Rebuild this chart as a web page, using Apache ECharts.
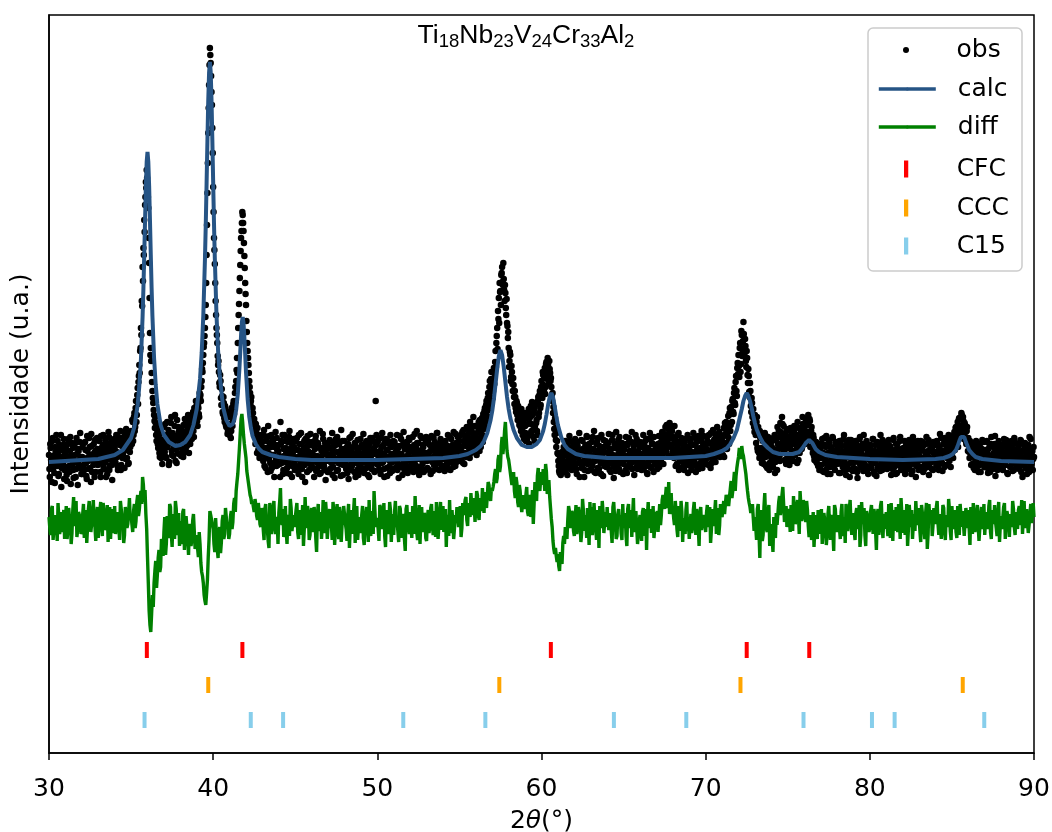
<!DOCTYPE html>
<html><head><meta charset="utf-8">
<script src="https://cdn.jsdelivr.net/npm/echarts@6/dist/echarts.min.js"></script>
<style>html,body{margin:0;padding:0;background:#fff}#c{width:1052px;height:832px}</style>
</head><body><div id="c"></div>
<script>
// ---- data (intensity in arbitrary units) ----
const xTicks = [30, 40, 50, 60, 70, 80, 90];
// observed: one row per degree (30..89), 20 points per row at d + 0.05*j
const obsRowStart = 30, obsStep = 0.05;
const obsRows = [
[298,276,305,289,312,284,295,270,301,318,287,293,279,308,296,266,303,290,314,283],
[300,286,272,309,294,281,316,297,288,305,275,292,310,284,299,268,302,293,320,287],
[279,306,295,283,311,290,274,302,296,315,285,271,307,293,288,300,313,281,297,304],
[289,312,300,276,305,295,318,284,303,291,309,279,298,316,287,306,293,273,310,301],
[305,290,318,296,283,311,300,322,288,307,299,316,285,309,324,295,312,290,318,306],
[322,309,331,318,340,326,352,338,365,371,388,402,425,452,486,505,533,548,571,583],
[568,545,490,420,405,380,362,350,338,325,330,312,322,305,318,296,310,301,289,307],
[326,301,317,295,331,309,288,320,312,336,298,318,305,327,292,314,333,300,321,309],
[319,297,322,304,328,301,316,330,307,325,312,333,309,329,314,338,322,345,329,352],
[338,327,345,336,355,352,372,381,398,410,425,448,498,560,620,668,705,690,661,625],
[566,515,489,452,425,410,388,381,366,372,348,357,339,350,331,344,326,341,322,339],
[318,336,322,341,333,352,345,366,372,395,410,438,462,488,515,530,538,522,497,470],
[448,421,402,388,372,360,352,338,345,326,334,318,329,312,325,303,318,297,314,306],
[311,292,323,300,285,316,305,327,294,309,282,318,298,313,290,306,321,287,303,295],
[308,289,331,312,296,279,304,318,291,300,285,311,297,322,288,305,276,299,314,292],
[303,287,315,296,279,309,292,320,284,301,295,312,271,306,290,317,298,283,308,294],
[289,311,298,276,304,317,291,285,309,296,322,280,302,293,314,287,306,273,299,310],
[297,281,313,305,290,320,286,301,275,308,294,316,283,300,311,289,323,296,278,304],
[312,291,284,306,298,274,315,293,302,287,319,296,281,309,300,290,313,278,305,295],
[286,308,297,319,280,303,292,312,289,301,276,310,296,284,315,299,305,282,352,318],
[301,288,314,295,279,306,320,291,284,310,297,303,277,312,293,287,318,299,282,307],
[296,311,285,302,318,290,275,307,299,314,288,296,321,283,305,292,309,280,300,313],
[287,304,295,316,281,308,293,299,322,286,310,278,302,294,315,289,306,297,283,311],
[300,285,313,296,308,279,317,291,303,288,311,298,284,320,293,306,290,314,301,287],
[309,294,282,312,300,289,318,297,305,283,314,296,290,321,302,287,310,298,316,293],
[305,292,318,301,296,323,289,310,307,326,298,315,304,331,300,322,312,336,309,327],
[315,298,326,309,321,333,306,328,318,339,324,345,331,352,337,360,348,372,356,381],
[368,362,385,379,402,410,425,442,455,470,462,478,486,468,474,452,460,438,430,415],
[405,392,398,376,381,362,368,349,356,341,350,333,345,328,339,322,336,318,331,314],
[327,312,335,318,341,309,330,347,322,338,316,344,326,350,333,318,356,340,362,348],
[372,355,378,362,385,366,391,374,388,369,384,372,366,352,340,331,318,325,306,312],
[299,287,280,292,284,301,293,306,289,312,298,284,309,295,317,290,305,283,311,296],
[288,314,302,279,307,295,320,291,300,285,312,298,276,305,293,317,289,301,309,283],
[298,311,287,304,322,292,280,309,296,315,284,303,290,318,299,277,306,293,312,286],
[307,294,319,283,301,290,313,298,275,309,296,321,288,304,292,316,281,300,310,295],
[289,305,297,316,280,308,293,312,286,299,321,291,303,278,310,296,314,284,302,290],
[311,296,283,306,318,290,301,287,314,279,305,297,320,293,285,309,300,316,289,304],
[298,284,309,317,292,305,300,321,296,313,308,326,301,318,324,309,330,315,306,322],
[316,303,327,299,312,289,307,320,294,302,285,311,297,306,283,314,292,300,318,288],
[303,291,314,286,299,320,293,308,281,311,296,317,289,305,298,322,285,309,300,294],
[306,289,312,297,318,301,285,309,294,323,300,314,291,307,326,298,311,319,302,316],
[312,298,325,306,319,331,304,327,315,340,322,346,331,354,339,365,348,377,357,390],
[398,376,410,389,418,402,431,405,414,392,402,378,384,361,370,347,355,336,344,326],
[338,318,331,305,326,300,322,296,318,293,314,289,320,296,311,285,316,299,290,308],
[295,312,286,304,318,291,300,283,309,322,297,330,305,336,314,327,301,319,289,312],
[296,316,288,307,321,294,311,302,327,298,315,306,331,293,318,309,325,304,336,317],
[322,309,334,315,328,338,319,332,313,326,305,318,297,311,292,306,300,287,309,295],
[302,288,314,296,281,308,293,317,285,300,291,310,279,304,297,315,286,301,292,308],
[289,303,295,312,280,299,307,286,314,292,301,278,309,296,284,305,290,313,298,282],
[306,291,284,311,297,275,303,290,316,288,299,309,282,294,305,287,312,296,279,301],
[293,308,285,299,314,281,302,290,277,311,296,287,305,318,292,283,300,309,288,297],
[302,284,297,313,289,306,278,300,295,315,286,292,309,280,304,298,290,316,283,301],
[287,305,296,279,310,292,301,284,313,297,289,307,282,299,311,293,276,304,290,308],
[298,285,312,294,303,281,308,290,299,316,286,302,278,295,309,291,305,283,300,296],
[301,288,310,294,283,306,297,315,290,302,309,286,299,313,295,304,318,292,307,311],
[299,316,305,321,310,326,315,331,322,335,327,319,338,324,332,318,328,312,322,309],
[315,301,312,296,305,289,308,298,283,302,294,310,287,299,306,281,297,313,290,300],
[286,303,295,311,280,298,307,289,316,293,284,300,309,277,296,305,290,312,285,298],
[304,291,283,309,297,288,313,294,279,302,310,286,298,306,282,295,315,290,301,287],
[293,307,284,299,312,288,276,303,295,310,285,300,291,308,281,297,314,289,302,294]
];
// observed, in-between points: one row per degree, 20 points at d + 0.025 + 0.05*j
const obsMidOffset = 0.025;
const obsMidRows = [
[284,309,293,271,315,297,280,306,289,299,312,277,302,291,318,285,296,308,274,300],
[305,278,296,314,287,302,269,310,293,283,307,298,276,315,290,304,285,311,296,279],
[296,283,310,289,303,277,317,292,284,306,298,319,281,294,309,276,302,290,315,288],
[301,294,281,317,290,308,286,299,313,276,303,294,321,283,300,311,288,305,296,314],
[292,310,301,287,316,299,308,283,313,295,310,302,321,294,316,306,289,320,301,315],
[314,333,312,336,322,345,331,358,349,377,380,405,418,447,472,498,521,556,565,575],
[556,515,455,398,392,371,355,343,332,336,318,327,309,314,300,322,295,313,304,296],
[312,329,296,318,306,323,291,315,330,302,320,297,312,338,304,290,317,326,299,315],
[306,325,311,296,318,334,303,321,315,338,300,320,336,317,326,341,316,334,340,347],
[332,348,339,360,358,366,384,390,406,417,436,470,528,590,645,688,698,677,648,600],
[541,503,470,438,418,397,392,370,378,355,364,341,356,335,347,328,339,319,336,325],
[329,315,345,327,349,339,360,352,383,380,425,449,475,502,522,541,530,510,485,459],
[432,410,395,380,366,348,356,331,340,322,330,309,320,300,316,308,295,311,300,318],
[302,318,287,305,296,312,281,300,317,290,306,285,311,298,276,308,293,315,288,302],
[297,276,309,290,318,283,297,312,305,280,302,291,316,279,300,310,287,294,306,283],
[312,295,284,303,318,287,299,309,276,293,305,288,314,297,281,302,311,290,319,286],
[300,285,307,294,313,282,297,310,290,279,305,296,287,319,299,283,310,292,304,281],
[305,292,284,299,311,278,296,307,292,314,282,301,290,309,295,277,304,312,288,299],
[290,304,296,280,309,287,300,316,283,297,306,292,310,276,298,305,284,301,292,314],
[298,282,306,291,300,310,285,296,278,307,293,315,287,302,290,312,281,299,308,289],
[311,296,283,302,315,290,299,308,276,296,314,285,303,295,309,280,297,306,291,312],
[284,300,307,291,283,305,296,317,286,299,278,309,292,304,288,311,297,284,315,293],
[306,292,283,301,296,319,288,305,310,282,299,294,317,286,303,308,281,300,292,316],
[292,310,299,283,302,293,306,282,315,297,289,306,320,295,301,283,310,297,286,305],
[296,310,303,288,295,307,284,301,316,292,300,308,286,305,296,319,291,304,309,300],
[312,299,306,321,290,312,300,316,296,318,309,323,295,314,327,306,319,301,317,309],
[307,320,312,331,302,323,316,335,311,330,342,326,348,333,355,343,366,352,374,362],
[355,374,369,391,386,417,404,434,430,461,448,480,471,490,463,468,445,454,427,421],
[386,401,372,387,369,375,356,362,345,352,338,347,332,340,326,344,324,335,315,340],
[320,338,313,329,344,318,336,321,351,328,340,312,348,330,322,352,336,358,345,366],
[360,381,368,375,359,389,380,395,377,392,380,375,358,360,346,324,335,313,320,300],
[292,282,296,278,290,287,298,281,302,291,306,278,300,288,312,297,284,303,293,308],
[297,306,284,311,290,302,276,298,313,287,304,292,283,308,299,316,282,296,305,291],
[304,289,316,297,281,302,294,311,285,300,307,292,279,305,296,313,287,301,290,309],
[288,310,298,304,281,296,318,287,305,293,282,309,298,313,284,300,290,307,297,279],
[303,294,283,309,297,287,315,302,291,311,284,298,307,292,318,286,301,309,293,307],
[299,288,310,295,284,307,312,296,280,303,291,314,286,302,310,297,281,293,308,299],
[291,305,299,286,310,293,315,306,289,319,301,312,328,306,316,297,320,308,327,301],
[309,295,314,287,302,318,296,283,310,298,315,291,304,287,311,299,306,293,280,305],
[296,310,283,301,308,291,316,298,287,303,312,284,301,295,313,290,304,317,292,308],
[294,316,303,288,310,296,320,290,305,312,294,308,318,302,297,313,321,296,309,305],
[305,317,296,330,310,323,317,337,309,345,328,339,352,341,360,350,371,362,385,379],
[387,405,381,422,397,412,419,400,407,386,395,370,377,356,362,341,350,330,338,321],
[325,310,336,302,319,295,315,305,290,312,301,296,318,287,306,300,313,283,304,297],
[306,291,315,298,280,313,295,326,304,316,292,321,310,329,300,318,293,307,324,298],
[305,292,312,325,300,317,292,322,309,301,318,290,313,325,300,320,314,306,329,310],
[314,327,310,330,321,316,334,306,322,312,300,315,293,303,311,290,302,296,283,305],
[295,309,282,300,315,290,306,297,279,313,298,286,306,293,316,288,302,283,311,296],
[307,292,280,298,311,289,301,295,318,283,296,305,288,300,313,276,297,309,291,303],
[285,300,312,293,281,307,298,314,286,302,291,305,318,289,297,310,283,301,294,308],
[305,288,296,314,290,279,308,296,301,285,310,298,282,304,291,313,296,286,307,292],
[294,311,286,301,307,292,298,284,313,290,303,279,297,309,288,300,312,293,304,287],
[299,288,312,293,284,305,296,310,287,300,279,302,316,291,296,307,287,299,312,283],
[306,293,286,303,311,295,284,301,309,290,297,313,287,304,292,284,301,311,293,308],
[293,312,298,286,304,319,291,301,282,309,296,315,303,288,308,296,312,301,286,314],
[308,295,318,303,325,312,320,306,334,323,316,340,326,336,314,330,321,309,326,302],
[308,295,310,288,303,299,285,306,292,312,290,302,281,308,296,289,304,293,311,286],
[299,290,312,285,304,295,281,309,297,290,306,293,317,288,301,283,297,308,292,302],
[297,285,301,314,289,298,306,280,293,309,299,287,312,291,303,283,297,310,288,304],
[289,300,296,313,281,302,309,292,287,306,298,279,305,293,316,286,301,296,283,306]
];
const obsLast = [90, 296];

// calculated profile
const calcX = [30,31,32,33,34,34.5,35,35.2,35.4,35.5,35.6,35.7,35.75,35.8,35.85,35.9,35.95,36,36.05,36.1,36.15,36.2,36.25,36.3,36.4,36.5,36.6,36.8,37,37.3,37.7,38,38.3,38.6,38.8,39,39.2,39.3,39.4,39.5,39.55,39.6,39.65,39.7,39.75,39.8,39.85,39.9,39.95,40,40.05,40.1,40.2,40.3,40.4,40.6,40.8,41,41.2,41.3,41.4,41.5,41.6,41.65,41.7,41.75,41.8,41.85,41.9,41.95,42,42.1,42.2,42.3,42.4,42.6,42.8,43,43.5,44,45,46,50,52,54,55,55.5,56,56.3,56.5,56.7,56.9,57,57.1,57.2,57.3,57.4,57.5,57.6,57.7,57.8,57.9,58,58.1,58.3,58.5,58.8,59.1,59.4,59.7,59.9,60.1,60.2,60.3,60.4,60.5,60.6,60.7,60.8,60.9,61,61.2,61.4,61.6,62.1,62.6,64,68,70,70.5,71,71.3,71.5,71.7,71.9,72,72.1,72.2,72.3,72.4,72.5,72.6,72.7,72.8,72.9,73,73.1,73.3,73.5,73.8,74.1,74.5,74.9,75.3,75.5,75.7,75.9,76.1,76.3,76.5,76.7,76.9,77.3,78,80,82,84,84.5,84.85,85.05,85.25,85.35,85.45,85.55,85.65,85.75,85.85,85.95,86.05,86.25,86.45,86.85,88,90];
const calcY = [291,292,293,294,298,303,315,326,348,367,394,436,464,497,532,566,591,601,591,567,533,498,465,437,395,368,349,328,318,311,307,308,311,318,328,344,374,400,438,494,529,570,612,652,680,691,681,653,613,571,530,495,439,402,378,346,333,327,329,334,343,359,385,401,418,431,436,430,416,399,381,354,336,325,317,309,304,301,298,296,294,293,293,294,295,297,299,303,307,312,320,333,342,354,369,384,397,403,398,386,371,356,344,335,323,315,308,306,306,309,313,322,329,338,348,356,360,356,347,337,328,316,308,304,299,297,295,295,297,299,302,305,309,315,323,330,337,344,352,357,360,357,352,345,337,330,324,316,310,305,301,299,299,299,300,301,305,310,313,310,304,301,298,296,294,293,294,295,297,299,303,307,312,316,318,316,311,307,303,299,296,294,292,291];

// difference (offset): one row per degree, 10 points at d + 0.1*j
const diffRowStart = 30, diffStep = 0.1;
const diffRows = [
[236,218,247,225,240,212,252,229,221,243],
[230,214,245,238,220,256,227,216,241,233],
[222,249,231,210,244,236,219,253,226,239],
[215,242,228,250,223,234,211,246,237,220],
[247,226,239,213,251,232,218,244,229,255],
[238,221,249,232,258,243,262,276,251,239],
[196,142,121,158,170,192,178,203,186,211],
[221,198,237,215,246,206,229,252,218,240],
[232,209,244,221,235,198,226,213,239,204],
[218,196,209,181,170,152,160,196,242,236],
[224,201,218,195,226,211,238,219,247,230],
[219,242,231,255,262,279,305,334,330,309],
[295,276,264,255,252,241,248,233,242,226],
[237,213,249,224,205,241,230,252,219,233],
[240,265,228,216,247,209,235,254,222,238],
[227,250,214,243,231,207,256,225,239,218],
[245,221,236,201,249,232,214,253,228,240],
[216,244,229,251,208,237,222,246,211,234],
[249,224,238,205,243,219,255,231,213,236],
[222,247,208,240,229,253,217,234,262,226],
[235,212,245,224,250,206,238,219,243,230],
[218,252,233,211,244,227,239,202,248,225],
[241,215,236,257,221,230,209,246,228,237],
[212,243,227,249,218,235,251,214,240,223],
[247,229,206,238,253,220,242,225,233,248],
[231,216,250,236,256,227,242,260,238,249],
[244,258,233,251,265,240,256,247,268,252],
[262,271,284,275,298,287,316,308,331,302],
[293,288,268,281,255,270,246,262,241,258],
[249,266,237,258,244,229,271,252,285,262],
[281,284,262,281,268,256,234,212,199,197],
[199,182,196,210,209,220,233,242,231,239],
[217,248,226,239,211,254,222,233,245,208],
[231,218,250,227,243,205,236,252,220,241],
[246,223,234,210,251,229,217,244,238,213],
[225,240,207,249,232,216,255,228,241,219],
[238,212,245,229,203,251,234,220,247,226],
[233,221,249,238,258,244,266,252,239,260],
[247,228,241,216,236,252,211,230,243,222],
[214,239,226,251,218,233,207,246,229,240],
[221,248,232,210,244,227,253,235,218,249],
[236,252,241,259,247,264,255,271,262,285],
[296,301,307,297,285,270,255,246,238,235],
[236,213,249,195,233,218,260,224,239,207],
[222,201,223,240,229,257,244,266,231,247],
[225,236,248,222,243,232,253,219,260,241],
[249,231,243,216,229,222,206,238,214,231],
[232,209,240,226,219,247,213,235,202,244],
[221,238,214,249,227,210,241,232,253,218],
[236,213,245,224,206,251,229,218,242,234],
[226,248,219,237,203,244,230,252,215,239],
[241,217,229,250,212,235,246,221,232,255],
[220,243,231,207,248,226,214,239,252,228],
[235,211,246,223,240,204,249,230,217,245],
[229,252,218,240,226,245,213,237,254,222],
[247,224,238,215,231,249,226,242,219,236],
[243,208,233,250,221,239,227,212,246,231],
[218,241,229,253,214,236,248,225,240,211],
[237,222,250,229,244,216,233,252,226,241],
[224,247,235,219,252,230,243,228,249,238]
];
// difference, in-between points: one row per degree, 10 points at d + 0.05 + 0.1*j
const diffMidOffset = 0.05;
const diffMidRows = [
[225,244,213,238,229,250,219,241,232,214],
[247,222,235,209,243,231,252,224,238,219],
[238,215,243,226,252,221,239,230,212,246],
[233,251,217,240,226,248,229,214,244,231],
[219,241,227,252,236,210,246,225,240,233],
[229,242,225,251,237,254,249,268,263,224],
[170,128,139,146,182,165,195,181,214,197],
[236,210,226,249,219,239,214,244,229,207],
[218,241,203,237,214,229,207,232,222,213],
[205,221,190,177,158,148,173,214,238,229],
[209,235,204,221,200,232,214,245,226,214],
[236,224,249,241,271,292,320,339,318,302],
[282,270,258,249,246,254,237,250,229,245],
[224,244,231,212,250,219,244,226,236,209],
[251,233,244,226,221,238,217,245,231,226],
[243,221,236,218,248,224,235,247,213,237],
[229,246,215,238,222,241,229,220,251,214],
[238,225,213,242,226,249,214,235,228,247],
[230,212,249,226,234,241,210,247,225,220],
[238,215,230,246,211,224,242,219,244,232],
[224,248,229,238,217,243,228,251,211,239],
[241,226,222,247,215,236,214,244,231,219],
[228,247,219,238,213,248,234,221,240,215],
[236,220,245,229,242,216,233,227,251,236],
[221,244,235,217,227,243,214,238,246,226],
[247,225,238,253,233,250,236,248,255,231],
[262,238,255,242,252,261,245,271,258,265],
[266,279,270,293,281,307,299,322,315,296],
[287,274,277,262,276,251,268,249,251,244],
[258,241,255,236,263,249,260,277,268,274],
[268,276,289,259,273,245,226,204,205,191],
[187,201,189,217,226,214,247,225,242,222],
[234,219,246,229,221,243,238,215,229,251],
[246,229,234,213,238,247,225,241,231,226],
[231,240,222,246,236,214,239,229,220,249],
[236,217,244,225,243,238,221,242,209,231],
[226,241,217,244,237,225,244,232,215,241],
[242,236,228,253,249,256,245,271,248,239],
[235,252,224,247,222,241,235,219,251,230],
[228,220,243,233,244,225,240,223,238,231],
[240,226,246,223,234,241,219,245,228,239],
[245,239,258,251,256,272,262,281,277,291],
[305,294,300,291,279,262,250,240,249,222],
[226,244,219,243,212,246,235,221,248,229],
[214,236,215,228,251,238,258,249,240,226],
[244,221,240,257,229,247,238,262,232,253],
[236,252,227,238,213,241,225,222,243,219],
[244,224,233,208,239,225,238,221,248,226],
[233,225,241,217,236,249,222,244,230,240],
[222,240,231,248,218,236,245,207,238,221],
[242,231,244,222,238,218,247,226,236,224],
[228,249,215,238,243,222,230,249,214,240],
[235,218,249,224,237,243,229,222,238,245],
[222,248,232,214,250,219,237,243,228,233],
[246,230,239,214,248,224,238,226,243,213],
[230,243,221,247,218,238,242,217,245,225],
[225,246,219,237,228,248,212,238,224,249],
[234,224,247,221,243,229,232,217,251,229],
[224,246,214,242,233,239,226,244,218,232],
[243,228,253,237,225,244,220,238,230,250]
];
const diffLast = [90, 236];

// reflection positions (2theta) for each phase
const cfcPos = [35.96, 41.78, 60.57, 72.50, 76.31];
const cccPos = [39.70, 57.43, 72.12, 85.66];
const c15Pos = [35.82, 42.29, 44.26, 51.58, 56.58, 64.41, 68.82, 75.96, 80.13, 81.51, 86.97];
const cfcLevel = 103, cccLevel = 68, c15Level = 33;

// ---- build ----
const rowsToPoints = (rows, start, offset, step) =>
  rows.flatMap((row, k) => row.map((v, j) => [+(start + k + offset + j * step).toFixed(3), v]));
const obsData = rowsToPoints(obsRows, obsRowStart, 0, obsStep)
  .concat(rowsToPoints(obsMidRows, obsRowStart, obsMidOffset, obsStep));
obsData.push(obsLast);
const diffData = rowsToPoints(diffRows, diffRowStart, 0, diffStep)
  .concat(rowsToPoints(diffMidRows, diffRowStart, diffMidOffset, diffStep));
diffData.push(diffLast);
diffData.sort((a, b) => a[0] - b[0]);
const calcData = calcX.map((x, i) => [x, calcY[i]]);
const tickData = (pos, lvl) => pos.map(p => [p, lvl]);

const FONT = 'DejaVu Sans';
const CALC_COLOR = '#265485', DIFF_COLOR = '#008000';
const tickIcon = 'path://M0,0H1V4H0Z';
// left = left edge of the drawn icon (small icons sit centred in a 57px slot starting at 877)
function leg(name, left, top, h, icon, lw) {
  const d = icon ? { name: name, icon: icon } : name;
  const o = {
    data: [d], left: left, top: top, orient: 'vertical',
    itemWidth: 57, itemHeight: h, padding: 0, itemGap: 0,
    selectedMode: false, z: 10,
    textStyle: { fontFamily: FONT, fontSize: 25, color: '#000', lineHeight: 26, padding: [0, 0, 0, 17] }
  };
  if (lw) o.lineStyle = { width: lw };
  return o;
}

const chart = echarts.init(document.getElementById('c'), null, { renderer: 'canvas' });
chart.setOption({
  animation: false,
  backgroundColor: '#fff',
  title: {
    text: '{m|Ti}{s|18}{m|Nb}{s|23}{m|V}{s|24}{m|Cr}{s|33}{m|Al}{s|2}',
    left: 'center', top: 20, padding: 0,
    textStyle: {
      fontWeight: 'normal',
      rich: {
        m: { fontFamily: 'Liberation Sans', fontSize: 26.5, fontWeight: 'normal', lineHeight: 31, color: '#000' },
        s: { fontFamily: 'Liberation Sans', fontSize: 18.5, fontWeight: 'normal', lineHeight: 22, verticalAlign: 'bottom', color: '#000' }
      }
    }
  },
  grid: {
    left: 49, right: 18, top: 15, bottom: 79,
    show: true, borderColor: '#000', borderWidth: 1.5, backgroundColor: 'transparent',
    outerBoundsMode: 'none'
  },
  xAxis: {
    type: 'value', min: xTicks[0], max: xTicks[xTicks.length - 1], interval: 10,
    axisLine: { show: true, onZero: false, lineStyle: { color: '#000', width: 1.5 } },
    axisTick: { show: true, length: 7, lineStyle: { color: '#000', width: 1.5 } },
    axisLabel: { fontFamily: FONT, fontSize: 25, color: '#000', margin: 24, showMinLabel: true, showMaxLabel: true },
    splitLine: { show: false },
    name: '{a|2}{i|θ}{a|(°)}', nameLocation: 'middle', nameGap: 56, nameMoveOverlap: false,
    nameTextStyle: {
      fontFamily: FONT, fontSize: 25, color: '#000',
      rich: { a: { fontFamily: FONT, fontSize: 25, color: '#000' }, i: { fontFamily: FONT, fontSize: 25, fontStyle: 'italic', color: '#000' } }
    }
  },
  yAxis: {
    type: 'value', min: 0, max: 738,
    axisLine: { show: true, onZero: false, lineStyle: { color: '#000', width: 1.5 } },
    axisTick: { show: false }, axisLabel: { show: false }, splitLine: { show: false },
    name: 'Intensidade (u.a.)', nameLocation: 'middle', nameGap: 15, nameRotate: 90,
    nameTextStyle: { fontFamily: FONT, fontSize: 25, color: '#000' }
  },
  legend: [
    leg('obs', 903, 37, 6),
    leg('calc', 877, 76, 4, null, 3.6),
    leg('diff', 877, 114, 4, null, 3.6),
    leg('CFC', 904, 156, 17, tickIcon),
    leg('CCC', 904, 195, 17, tickIcon),
    leg('C15', 904, 233, 17, tickIcon)
  ],
  graphic: [{
    type: 'rect', z: 3,
    shape: { x: 868, y: 28, width: 154, height: 243, r: 5 },
    style: { fill: 'rgba(255,255,255,0.8)', stroke: '#cccccc', lineWidth: 1.5 }
  }],
  series: [
    { name: 'obs', type: 'scatter', data: obsData, symbol: 'circle', symbolSize: 6.5, large: false,
      itemStyle: { color: '#000', opacity: 1 }, silent: true, z: 2 },
    { name: 'calc', type: 'line', data: calcData, symbol: 'none', showSymbol: false,
      lineStyle: { color: CALC_COLOR, width: 4, opacity: 1 }, itemStyle: { color: CALC_COLOR }, silent: true, z: 3 },
    { name: 'diff', type: 'line', data: diffData, symbol: 'none', showSymbol: false,
      lineStyle: { color: DIFF_COLOR, width: 3.4, opacity: 1 }, itemStyle: { color: DIFF_COLOR }, silent: true, z: 3 },
    { name: 'CFC', type: 'scatter', data: tickData(cfcPos, cfcLevel), symbol: 'rect', symbolSize: [4, 16],
      itemStyle: { color: '#ff0000', opacity: 1 }, silent: true, z: 4 },
    { name: 'CCC', type: 'scatter', data: tickData(cccPos, cccLevel), symbol: 'rect', symbolSize: [4, 16],
      itemStyle: { color: '#ffa500', opacity: 1 }, silent: true, z: 4 },
    { name: 'C15', type: 'scatter', data: tickData(c15Pos, c15Level), symbol: 'rect', symbolSize: [4, 16],
      itemStyle: { color: '#87ceeb', opacity: 1 }, silent: true, z: 4 }
  ]
});
</script>
</body></html>
